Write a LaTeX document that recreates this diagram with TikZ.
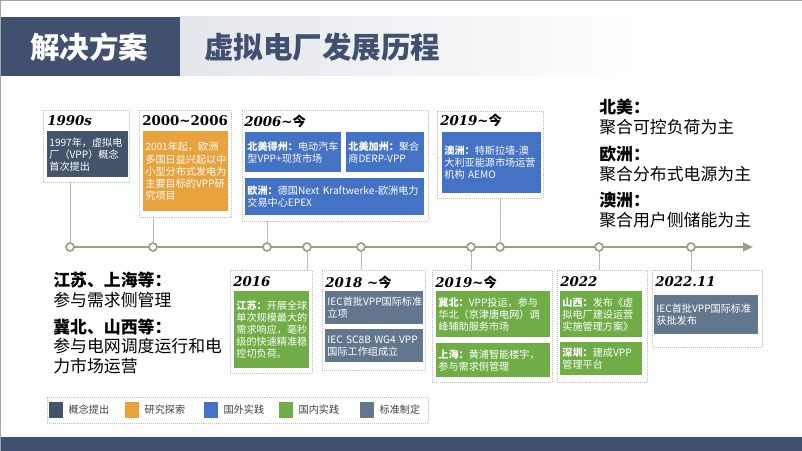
\documentclass[tikz,border=0pt]{standalone}
\usepackage{fontspec}
\setmainfont{Noto Sans CJK SC}
\newfontfamily\yearfont{DejaVu Serif}
\usetikzlibrary{positioning, fit, arrows.meta}
\definecolor{navy}{HTML}{44546A}
\definecolor{titlenavy}{HTML}{42506F}
\definecolor{amber}{HTML}{E8A33E}
\definecolor{sky}{HTML}{4472C4}
\definecolor{leaf}{HTML}{70AD47}
\definecolor{slate}{HTML}{62778E}
\definecolor{axis}{HTML}{A09C84}
\definecolor{band}{HTML}{E3E6EB}
\tikzset{
  frame/.style={draw=gray!50, densely dotted, fill=white, inner sep=0pt},
  card/.style={anchor=north west, inner xsep=1.5pt, inner ysep=1pt, text=white, align=left,
    font=\fontsize{7.2}{8.6}\selectfont},
  yr/.style={anchor=west, inner sep=0pt, font=\yearfont\bfseries\itshape\fontsize{9.5}{10}\selectfont},
  dot/.style={circle, draw=axis, fill=white, line width=1.2pt, minimum size=0.2cm, inner sep=0pt},
  stem/.style={draw=gray!55, line width=0.5pt},
  note/.style={anchor=west, inner sep=0pt, font=\fontsize{12}{14}\selectfont},
  swatch/.style={anchor=west, minimum width=0.35cm, minimum height=0.375cm, inner sep=0pt},
  legtext/.style={inner sep=0pt, text=black!75, font=\fontsize{7.2}{8}\selectfont}
}
\begin{document}
\begin{tikzpicture}[x=0.025cm, y=-0.025cm]
    \useasboundingbox (0,0) rectangle (802,451);
    % title bar
    \shade[left color=band, right color=white] (180,17) rectangle (640,76);
    \fill[titlenavy] (0,17) rectangle (180,76);
    \node[anchor=west, inner sep=0pt, text=white, font=\bfseries\fontsize{21}{21}\selectfont] (sol) at (30,47) {解决方案};
    \node[anchor=west, inner sep=0pt, text=titlenavy, font=\bfseries\fontsize{21}{21}\selectfont] (ttl) at (204,47) {虚拟电厂发展历程};
    \fill[titlenavy] (0,437) rectangle (802,451);
    \draw[gray!70, line width=0.6pt] (0,0) rectangle (802,451);

    % upper cards
    \node[frame, fit={(43,110) (129,182)}] (f1) {};
    \node[yr] (y1) at (47,121) {1990s};
    \node[card, fill=navy, text width=1.9cm, minimum width=2.0cm, minimum height=1.15cm] (c1) at (47,131)
        {1997年，虚拟电\\厂（VPP）概念\\首次提出};
    \node[frame, fit={(139,110) (231,217)}] (f2) {};
    \node[yr] (y2) at (142,121) {\upshape 2000\textasciitilde2006};
    \node[card, fill=amber, text width=2.0cm, minimum width=2.1cm, minimum height=2.0cm] (c2) at (143,131)
        {2001年起，欧洲\\多国日益兴起以中\\小型分布式发电为\\主要目标的VPP研\\究项目};
    \node[frame, fit={(242,110) (428,221)}] (f3) {};
    \node[yr] (y3) at (244,121) {2006\textasciitilde{\rmfamily\upshape 今}};
    \node[card, fill=sky, text width=2.275cm, minimum width=2.375cm, minimum height=1.0cm] (c3a) at (245,132)
        {\textbf{北美得州：}电动汽车\\型VPP+现货市场};
    \node[card, fill=sky, text width=1.825cm, minimum width=1.925cm, minimum height=1.0cm] (c3b) at (346,132)
        {\textbf{北美加州：}聚合\\商DERP-VPP};
    \node[card, fill=sky, text width=4.35cm, minimum width=4.45cm, minimum height=0.925cm] (c3c) at (245,178)
        {\textbf{欧洲：}德国Next Kraftwerke-欧洲电力\\交易中心EPEX};
    \node[frame, fit={(437,111) (543,198)}] (f4) {};
    \node[yr] (y4) at (440,120) {2019\textasciitilde{\rmfamily\upshape 今}};
    \node[card, fill=sky, text width=2.35cm, minimum width=2.45cm, minimum height=1.525cm] (c4) at (442,132)
        {\textbf{澳洲：}特斯拉墙-澳\\大利亚能源市场运营\\机构 AEMO};

    % lower cards
    \node[frame, fit={(230,270) (312,373)}] (f5) {};
    \node[yr] (y5) at (233,282) {2016};
    \node[card, fill=leaf, text width=1.75cm, minimum width=1.85cm, minimum height=1.925cm] (c5) at (234,291)
        {\textbf{江苏：}开展全球\\单次规模最大的\\需求响应，毫秒\\级的快速精准稳\\控切负荷。};
    \node[frame, fit={(322,270) (425,370)}] (f6) {};
    \node[yr] (y6) at (325,282) {2018 \textasciitilde{\rmfamily\upshape 今}};
    \node[card, fill=slate, text width=2.325cm, minimum width=2.425cm, minimum height=0.825cm] (c6a) at (325,291)
        {IEC首批VPP国际标准\\立项};
    \node[card, fill=slate, text width=2.325cm, minimum width=2.425cm, minimum height=0.825cm] (c6b) at (325,329)
        {IEC SC8B WG4 VPP\\国际工作组成立};
    \node[frame, fit={(432,270) (552,382)}] (f7) {};
    \node[yr] (y7) at (435,282) {2019\textasciitilde{\rmfamily\upshape 今}};
    \node[card, fill=leaf, text width=2.725cm, minimum width=2.825cm, minimum height=1.15cm] (c7a) at (436,291)
        {\textbf{冀北：}VPP投运，参与\\华北（京津唐电网）调\\峰辅助服务市场};
    \node[card, fill=leaf, text width=2.725cm, minimum width=2.825cm, minimum height=0.85cm] (c7b) at (436,343)
        {\textbf{上海：}黄浦智能楼宇，\\参与需求侧管理};
    \node[frame, fit={(557,270) (647,382)}] (f8) {};
    \node[yr] (y8) at (560,282) {2022};
    \node[card, fill=leaf, text width=1.925cm, minimum width=2.025cm, minimum height=1.15cm] (c8a) at (560,291)
        {\textbf{山西：}发布《虚\\拟电厂建设运营\\实施管理方案》};
    \node[card, fill=leaf, text width=1.925cm, minimum width=2.025cm, minimum height=0.825cm] (c8b) at (560,342)
        {\textbf{深圳：}建成VPP\\管理平台};
    \node[frame, fit={(652,270) (762,347)}] (f9) {};
    \node[yr] (y9) at (655,282) {2022.11};
    \node[card, fill=slate, text width=2.475cm, minimum width=2.575cm, minimum height=0.975cm] (c9) at (654,295)
        {IEC首批VPP国际标准\\获批发布};

    % time axis
    \coordinate (t0) at (70,247);
    \coordinate (tip) at (753,247);
    \draw[axis, line width=1.6pt, -{Triangle[length=7pt, width=6pt]}] (t0) -- (tip);
    \node[dot] (d1) at (70,247) {};
    \node[dot] (d2) at (153,247) {};
    \node[dot] (d3) at (267,247) {};
    \node[dot] (d4) at (500,247) {};
    \node[dot] (d5) at (307,247) {};
    \node[dot] (d6) at (361,247) {};
    \node[dot] (d7) at (471,247) {};
    \node[dot] (d8) at (599,247) {};
    \node[dot] (d9) at (691,247) {};
    \foreach \i in {1,2,3,4}
        \draw[stem] (d\i) -- (d\i |- f\i.south);
    \foreach \i in {5,6,7,8,9}
        \draw[stem] (d\i) -- (d\i |- f\i.north);

    % side notes
    \node[note, font=\bfseries\fontsize{12}{14}\selectfont] (na) at (599,107) {北美：};
    \node[note] (nat) at (599,127) {聚合可控负荷为主};
    \node[note, font=\bfseries\fontsize{12}{14}\selectfont] (eu) at (599,154) {欧洲：};
    \node[note] (eut) at (599,174) {聚合分布式电源为主};
    \node[note, font=\bfseries\fontsize{12}{14}\selectfont] (au) at (599,200) {澳洲：};
    \node[note] (aut) at (599,220) {聚合用户侧储能为主};
    \node[note, font=\bfseries\fontsize{12}{14}\selectfont] (js) at (53,280) {江苏、上海等：};
    \node[note] (jst) at (53,300) {参与需求侧管理};
    \node[note, font=\bfseries\fontsize{12}{14}\selectfont] (jb) at (53,327) {冀北、山西等：};
    \node[note] (jbt) at (53,346) {参与电网调度运行和电};
    \node[note] (jbu) at (53,366) {力市场运营};

    % legend
    \node[frame, fit={(47,397) (428,423)}] (leg) {};
    \node[swatch, fill=navy] (s1) at (49,410) {};
    \node[legtext, right=0.12cm of s1] (l1) {概念提出};
    \node[swatch, fill=amber] (s2) at (125,410) {};
    \node[legtext, right=0.12cm of s2] (l2) {研究探索};
    \node[swatch, fill=sky] (s3) at (204,410) {};
    \node[legtext, right=0.12cm of s3] (l3) {国外实践};
    \node[swatch, fill=leaf] (s4) at (279,410) {};
    \node[legtext, right=0.12cm of s4] (l4) {国内实践};
    \node[swatch, fill=slate] (s5) at (360,410) {};
    \node[legtext, right=0.12cm of s5] (l5) {标准制定};
\end{tikzpicture}
\end{document}
